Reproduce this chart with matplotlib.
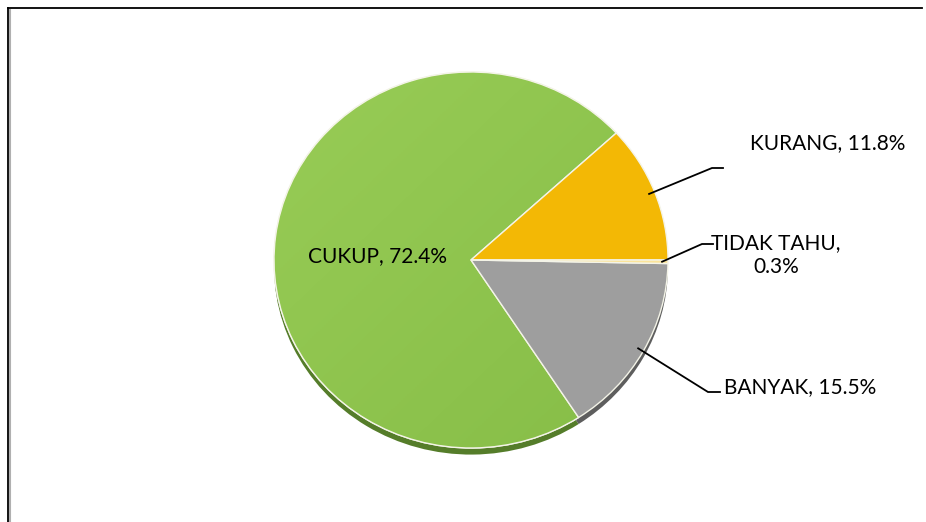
import numpy as np
import matplotlib.pyplot as plt
from matplotlib.patches import Wedge
from matplotlib.lines import Line2D
from matplotlib.colors import LinearSegmentedColormap

# data
labels = ["KURANG", "CUKUP", "BANYAK", "TIDAK TAHU"]
values = [11.8, 72.4, 15.5, 0.3]
colors = ["#F3B805", "#90C74F", "#9E9E9E", "#FBE49A"]
shadow_colors = ["#9A7400", "#557D2A", "#5E5E5E", "#A89860"]

W, H = 926, 522
fig = plt.figure(figsize=(W / 100, H / 100), dpi=100)
fig.patch.set_facecolor("white")

# pie placement (pixels)
cx, cy, rx, ry = 471, 260, 197, 188
ax = fig.add_axes([(cx - rx) / W, (H - cy - ry) / H, 2 * rx / W, 2 * ry / H])

angles = np.cumsum([0] + values) / 100 * 360

# shadow underneath (only peeks out along the lower rim)
for i in range(len(values)):
    sh = Wedge((0, -0.035), 1.0, angles[i], angles[i + 1],
               facecolor=shadow_colors[i], edgecolor="none", zorder=1,
               clip_on=False)
    ax.add_patch(sh)

wedges, _ = ax.pie(values, colors=colors, startangle=0, counterclock=True,
                   radius=1.0, frame=True,
                   wedgeprops=dict(edgecolor="#F4F4E8", linewidth=1.0))
ax.set_aspect("auto")
ax.set_xlim(-1, 1)
ax.set_ylim(-1, 1)
ax.axis("off")
for w in wedges:
    w.set_zorder(3)
    w.set_clip_on(False)
wedges[1].set_zorder(2)

# soft light gradient on the big slice
gx, gy = np.meshgrid(np.linspace(-1, 1, 200), np.linspace(-1, 1, 200))
grad = np.clip(0.5 - 0.25 * gx + 0.25 * gy, 0, 1)
cmap = LinearSegmentedColormap.from_list("g", ["#86BD47", "#98CC56"])
im = ax.imshow(grad, extent=(-1, 1, -1, 1), origin="lower", cmap=cmap,
               aspect="auto", zorder=2.5)
im.set_clip_path(wedges[1])
edge = Wedge((0, 0), 1.0, angles[1], angles[2], facecolor="none",
             edgecolor="#F4F4E8", linewidth=1.0, zorder=2.6, clip_on=False)
ax.add_patch(edge)

# overlay in pixel coordinates for frame, leader lines and labels
ov = fig.add_axes([0, 0, 1, 1], zorder=5)
ov.set_xlim(0, W)
ov.set_ylim(H, 0)
ov.axis("off")
ov.patch.set_alpha(0)

# chart border (top and left only, like the cropped source)
ov.add_line(Line2D([10, 10], [10, H], color="#B0B0B0", lw=1.5))
ov.add_line(Line2D([8, 922], [8, 8], color="black", lw=1.3))
ov.add_line(Line2D([8, 8], [8, H], color="black", lw=1.3))

font = dict(family=["Lato", "DejaVu Sans"], fontsize=15, color="black")

# leader lines: anchor from wedge mid-angle, then elbow + horizontal stub
layout = {
    "KURANG": dict(elbow=(712, 168), stub=723, text=(750, 143), ha="left"),
    "TIDAK TAHU": dict(elbow=(702, 244), stub=713, text=(776, 255), ha="center"),
    "BANYAK": dict(elbow=(708, 392), stub=720, text=(724, 387), ha="left"),
}
for i, lab in enumerate(labels):
    pct = f"{values[i]:.1f}%"
    mid = np.deg2rad((angles[i] + angles[i + 1]) / 2)
    if lab == "CUKUP":
        ov.text(378, 256, f"{lab}, {pct}", ha="center", va="center", **font)
        continue
    L = layout[lab]
    r = 0.97
    axx, axy = cx + rx * r * np.cos(mid), cy - ry * r * np.sin(mid)
    ex, ey = L["elbow"]
    ov.plot([axx, ex, L["stub"]], [axy, ey, ey], color="black", lw=1.3,
            solid_joinstyle="miter")
    txt = f"{lab},\n{pct}" if lab == "TIDAK TAHU" else f"{lab}, {pct}"
    ov.text(L["text"][0], L["text"][1], txt, ha=L["ha"], va="center",
            linespacing=1.3, **font)

fig.savefig("out.png", dpi=100)
